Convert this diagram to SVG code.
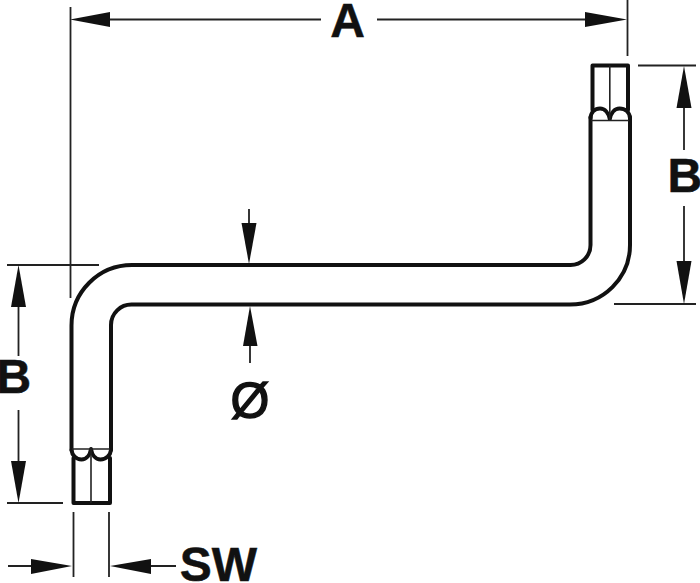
<svg xmlns="http://www.w3.org/2000/svg" width="700" height="583" viewBox="0 0 700 583">
<style>
.o{fill:none;stroke:#111;stroke-width:4;stroke-linejoin:round;stroke-linecap:round}
.t{fill:none;stroke:#222;stroke-width:1.6}
.d{fill:none;stroke:#222;stroke-width:1.8}
.h{fill:#111}
text{font-family:"Liberation Sans",Arial,sans-serif;font-weight:700;font-size:48px;fill:#111;stroke:#111;stroke-width:.5}
.m{text-anchor:middle}
.p{font-weight:400;font-size:50px;stroke-width:1.4}
</style>
<rect width="700" height="583" fill="#fff"/>
<g id="wrench">
<path class="o" d="M630 117V245A60 59.500 0 0 1 570 304.500H132A20.500 20.500 0 0 0 111 325V450"/>
<path class="o" d="M590.500 117V245A20 20 0 0 1 570 265H132A60.500 60.500 0 0 0 71.500 325.500V450"/>
<path class="o" d="M592.500 110V65.500H628V110"/>
<path class="o" d="M590.500 118C591 112 595 108.500 600 108.500C605 108.500 608.500 113 609.800 119C611 113 614.500 108.500 619.500 108.500C625 108.500 629.500 112 630 118"/>
<path class="t" d="M609.800 65.500V120M591 120.500H629"/>
<path class="o" d="M73.500 458V503H110V458"/>
<path class="o" d="M71.500 450C72 455 76 459.500 81.500 459.500C86.500 459.500 90 455 91 449C92 455 95.500 459.500 100.500 459.500C106 459.500 110.500 455 111 450"/>
<path class="t" d="M91 449V503M72 449H110"/>
</g>
<g id="connectors">
<path class="d" d="M70.500 7V298M627.500 0V56M110 19.500H321M377 19.500H585"/>
<polygon class="h" points="70,19.500 110,12 110,27"/>
<polygon class="h" points="627,19.500 585,12 585,27"/>
<path class="d" d="M7 265H99M7 503H63M18.500 307V356M18.500 410V461"/>
<polygon class="h" points="18.500,265 11,307 26,307"/>
<polygon class="h" points="18.500,503 11,461 26,461"/>
<path class="d" d="M638 65.500H696M614 304H696M684 108V150M684 206V261"/>
<polygon class="h" points="684,66 676.500,108 691.500,108"/>
<polygon class="h" points="684,304 676.500,261 691.500,261"/>
<path class="d" d="M249 209V223M250 346V363"/>
<polygon class="h" points="249,264 241.500,223 256.500,223"/>
<polygon class="h" points="250,306 243,346 257.500,346"/>
<path class="d" d="M73.500 512V577M109 512V577M8 566H31M151 566H176"/>
<polygon class="h" points="72,566 31,559 31,574"/>
<polygon class="h" points="110,566 151,559 151,574"/>
</g>
<g id="labels">
<text class="m" x="347.500" y="37">A</text>
<text x="-3.500" y="393">B</text>
<text x="667.500" y="192">B</text>
<text class="m p" x="250" y="418">Ø</text>
<text class="m" x="218.500" y="581">SW</text>
</g>
</svg>
